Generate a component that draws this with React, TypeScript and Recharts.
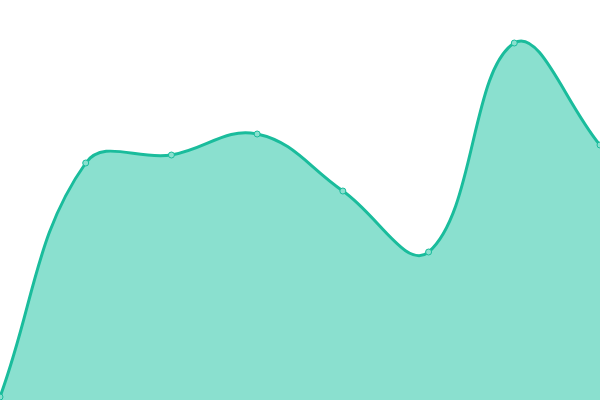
import { AreaChart, Area, XAxis, YAxis } from 'recharts';

const labels = ['A', 'B', 'C', 'D', 'E', 'F', 'G', 'H'];
const values = [3, 237, 245, 266, 209, 148, 357, 255];

const data = labels.map((name, i) => ({ name, value: values[i] }));

const W = 600;
const H = 400;
const TENSION = 0.4;

// bezier curve like chart.js (tension 0.4, control points capped to the plot area)
function tensionCurve(context: any) {
  let line = NaN;
  let pts: number[][] = [];
  const cap = (v: number, max: number) => Math.max(0, Math.min(max, v));
  return {
    areaStart() { line = 0; },
    areaEnd() { line = NaN; },
    lineStart() { pts = []; },
    point(x: number, y: number) { pts.push([+x, +y]); },
    lineEnd() {
      const n = pts.length;
      if (n) {
        const ctrl = pts.map((cur, i) => {
          const prev = pts[i - 1] || cur;
          const next = pts[i + 1] || cur;
          const d01 = Math.hypot(cur[0] - prev[0], cur[1] - prev[1]);
          const d12 = Math.hypot(next[0] - cur[0], next[1] - cur[1]);
          let s01 = d01 / (d01 + d12);
          let s12 = d12 / (d01 + d12);
          if (isNaN(s01)) s01 = 0;
          if (isNaN(s12)) s12 = 0;
          const fa = TENSION * s01;
          const fb = TENSION * s12;
          return {
            px: cap(cur[0] - fa * (next[0] - prev[0]), W),
            py: cap(cur[1] - fa * (next[1] - prev[1]), H),
            nx: cap(cur[0] + fb * (next[0] - prev[0]), W),
            ny: cap(cur[1] + fb * (next[1] - prev[1]), H),
          };
        });
        if (line) context.lineTo(pts[0][0], pts[0][1]);
        else context.moveTo(pts[0][0], pts[0][1]);
        for (let i = 1; i < n; i++) {
          context.bezierCurveTo(ctrl[i - 1].nx, ctrl[i - 1].ny, ctrl[i].px, ctrl[i].py, pts[i][0], pts[i][1]);
        }
      }
      if (line || (line !== 0 && n === 1)) context.closePath();
      line = 1 - line;
    },
  };
}

export default function App() {
  return (
    <div style={{ position: 'absolute', left: 0, top: 0, width: W, height: H, background: '#fff' }}>
      <AreaChart width={W} height={H} data={data} margin={{ top: 0, right: 0, bottom: 0, left: 0 }}>
        <XAxis dataKey="name" hide />
        <YAxis hide domain={[0, 400]} />
        <Area
          type={tensionCurve as any}
          dataKey="value"
          stroke="#1abc9c"
          strokeWidth={3}
          fill="#8ae0cf"
          fillOpacity={1}
          dot={{ r: 3, fill: '#8ae0cf', stroke: '#1abc9c', strokeWidth: 1, fillOpacity: 1 }}
          activeDot={false}
          isAnimationActive={false}
        />
      </AreaChart>
    </div>
  );
}
